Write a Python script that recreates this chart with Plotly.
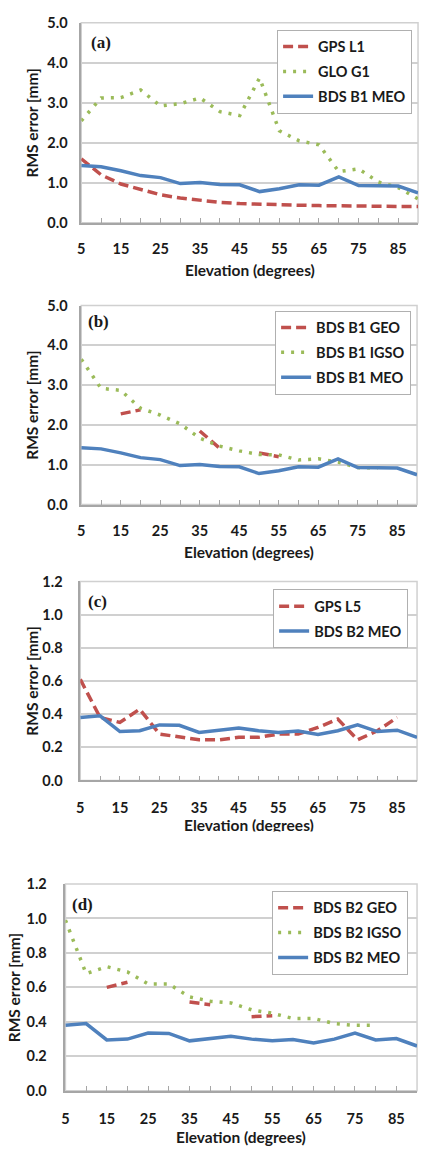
import plotly.graph_objects as go

# ---------------- data ----------------
elevation = [5, 10, 15, 20, 25, 30, 35, 40, 45, 50, 55, 60, 65, 70, 75, 80, 85, 90]
x_tick_values = [5, 15, 25, 35, 45, 55, 65, 75, 85]
x_tick_labels = ["5", "15", "25", "35", "45", "55", "65", "75", "85"]

# panel (a)
gps_l1 = [1.60, 1.20, 0.97, 0.84, 0.70, 0.62, 0.56, 0.51, 0.48, 0.46, 0.45, 0.44, 0.43, 0.42, 0.42, 0.42, 0.41, 0.41]
glo_g1 = [2.55, 3.12, 3.13, 3.32, 2.92, 2.98, 3.12, 2.78, 2.68, 3.62, 2.30, 2.05, 1.95, 1.28, 1.35, 1.02, 0.88, 0.60]
bds_b1_meo = [1.43, 1.40, 1.30, 1.18, 1.13, 0.98, 1.01, 0.96, 0.95, 0.78, 0.85, 0.95, 0.94, 1.15, 0.93, 0.92, 0.92, 0.75]

# panel (b)
bds_b1_geo = [None, None, 2.28, 2.38, None, None, 1.85, 1.42, None, 1.30, 1.20, None, None, None, None, None, None, None]
bds_b1_igso = [3.65, 2.92, 2.87, 2.42, 2.25, 2.03, 1.67, 1.47, 1.35, 1.26, 1.25, 1.12, 1.15, 1.07, 0.93, 0.92, None, None]

# panel (c)
gps_l5 = [0.61, 0.38, 0.35, 0.43, 0.28, 0.265, 0.245, 0.245, 0.26, 0.26, 0.28, 0.28, 0.32, 0.37, 0.245, 0.30, 0.38, None]
bds_b2_meo = [0.38, 0.39, 0.295, 0.30, 0.335, 0.333, 0.29, 0.305, 0.316, 0.30, 0.29, 0.298, 0.277, 0.30, 0.335, 0.295, 0.303, 0.26]

# panel (d)
bds_b2_geo = [None, None, 0.60, 0.63, None, None, 0.515, 0.50, None, 0.43, 0.435, None, None, None, None, None, None, None]
bds_b2_igso = [0.99, 0.68, 0.72, 0.69, 0.62, 0.62, 0.545, 0.52, 0.51, 0.47, 0.45, 0.42, 0.42, 0.39, 0.38, 0.38, None, None]

panel_labels = ["(a)", "(b)", "(c)", "(d)"]
y_title = "RMS error [mm]"
x_title = "Elevation (degrees)"

# ---------------- styling ----------------
W, H = 422, 1156
RED, GREEN, BLUE = "#C0504D", "#9BBB59", "#4F81BD"
FONT = "Lato"
TXT = "#1a1a1a"
TICK_SIZE = 14.5
TITLE_SIZE = 15.5
LEG_SIZE = 14.5

def fx(p):
    return p / W

def fy(p):
    return 1 - p / H

styles = {
    "red": dict(color=RED, width=3.5, dash="10px,5px"),
    "green": dict(color=GREEN, width=3.5, dash="3px,7px"),
    "blue": dict(color=BLUE, width=3.5),
}

# layout geometry per panel (pixels)
panels = [
    dict(box=(78, 418, 14, 217), yr=[0, 5], dt=1.0, ystand=9, xstand=12,
         leg=(412, 21), ytx=28, xty=265, lab=(86, 34),
         series=[("GPS L1", gps_l1, "red"), ("GLO G1", glo_g1, "green"), ("BDS B1 MEO", bds_b1_meo, "blue")]),
    dict(box=(78, 417, 301, 503), yr=[0, 5], dt=1.0, ystand=9, xstand=12,
         leg=(411, 306), ytx=28, xty=551, lab=(83, 317),
         series=[("BDS B1 GEO", bds_b1_geo, "red"), ("BDS B1 IGSO", bds_b1_igso, "green"), ("BDS B1 MEO", bds_b1_meo, "blue")]),
    dict(box=(77, 417, 581, 783), yr=[0, 1.2], dt=0.2, ystand=13, xstand=13,
         leg=(408, 589), ytx=28, xty=828, lab=(83, 601),
         series=[("GPS L5", gps_l5, "red"), ("BDS B2 MEO", bds_b2_meo, "blue")]),
    dict(box=(62, 417, 888, 1098), yr=[0, 1.2], dt=0.2, ystand=14, xstand=14,
         leg=(408, 895), ytx=10, xty=1145, lab=(67, 909),
         series=[("BDS B2 GEO", bds_b2_geo, "red"), ("BDS B2 IGSO", bds_b2_igso, "green"), ("BDS B2 MEO", bds_b2_meo, "blue")]),
]

fig = go.Figure()
layout = dict(
    width=W, height=H, autosize=False,
    margin=dict(l=0, r=0, t=0, b=0),
    paper_bgcolor="white", plot_bgcolor="white",
    font=dict(family=FONT, size=13, color=TXT),
    annotations=[], shapes=[],
)

for i, p in enumerate(panels):
    n = "" if i == 0 else str(i + 1)
    xa, ya = "x" + n, "y" + n
    legname = "legend" + n
    x0, x1, y0, y1 = p["box"]
    for j, (name, vals, st) in enumerate(p["series"]):
        fig.add_trace(go.Scatter(
            x=elevation, y=vals, name=name, mode="lines",
            line=styles[st], connectgaps=False,
            xaxis=xa, yaxis=ya, legend=legname,
            legendgroup=f"{legname}_{j}",
        ))
    layout["xaxis" + n] = dict(
        domain=[fx(x0), fx(x1)], anchor=ya, range=[5, 90],
        tickmode="array", tickvals=x_tick_values, ticktext=x_tick_labels,
        ticks="inside", ticklen=5, tickwidth=1, tickcolor="#a6a6a6",
        minor=dict(tick0=5, dtick=5, ticks="inside", ticklen=5, tickwidth=1,
                   tickcolor="#a6a6a6", showgrid=False),
        showgrid=False, zeroline=False, showline=True, linecolor="#a6a6a6", linewidth=1.5,
        tickfont=dict(family=FONT, size=TICK_SIZE, color=TXT, weight="bold"),
        ticklabelstandoff=p["xstand"], fixedrange=True,
    )
    layout["yaxis" + n] = dict(
        domain=[fy(y1), fy(y0)], anchor=xa, range=p["yr"], dtick=p["dt"], tick0=0,
        tickformat=".1f", ticks="", showgrid=True, gridcolor="#d0d0d0", gridwidth=1.5,
        zeroline=False, showline=True, linecolor="#a6a6a6", linewidth=1.5,
        tickfont=dict(family=FONT, size=TICK_SIZE, color=TXT, weight="bold"),
        ticklabelstandoff=p["ystand"], fixedrange=True,
    )
    layout[legname] = dict(
        x=fx(p["leg"][0]), xanchor="right", y=fy(p["leg"][1]), yanchor="top",
        xref="paper", yref="paper",
        bgcolor="white", bordercolor="#b0b0b0", borderwidth=1,
        font=dict(family=FONT, size=LEG_SIZE, color=TXT, weight="bold"),
        tracegroupgap=3, itemwidth=30, traceorder="grouped",
    )
    # plot-area border
    layout["shapes"].append(dict(
        type="rect", xref=xa + " domain", yref=ya + " domain",
        x0=0, x1=1, y0=0, y1=1, line=dict(color="#d0d0d0", width=1.5), layer="below",
    ))
    # panel label
    layout["annotations"].append(dict(
        text=panel_labels[i], xref="paper", yref="paper",
        x=fx(p["lab"][0]), y=fy(p["lab"][1]), xanchor="left", yanchor="middle",
        showarrow=False, font=dict(family="Liberation Serif", size=17, color=TXT, weight="bold"),
    ))
    # y title
    layout["annotations"].append(dict(
        text=y_title, xref="paper", yref="paper", textangle=-90,
        x=fx(p["ytx"]), y=fy((y0 + y1) / 2), xanchor="center", yanchor="middle",
        showarrow=False, font=dict(family=FONT, size=TITLE_SIZE, color=TXT, weight="bold"),
    ))
    # x title
    layout["annotations"].append(dict(
        text=x_title, xref="paper", yref="paper",
        x=fx((x0 + x1) / 2), y=fy(p["xty"]), xanchor="center", yanchor="middle",
        showarrow=False, font=dict(family=FONT, size=TITLE_SIZE, color=TXT, weight="bold"),
    ))

# the reference image crops the lower part of panel (c)'s x title
layout["annotations"].append(dict(
    text=" ", xref="paper", yref="paper", x=fx(247), y=fy(834),
    xanchor="center", yanchor="top", width=260, height=30, bgcolor="white",
    showarrow=False, font=dict(size=10),
))

fig.update_layout(**layout)
fig.write_html(
    "out.html",
    config={"displayModeBar": False, "staticPlot": False},
    post_script="document.body.style.margin='0';",
)
